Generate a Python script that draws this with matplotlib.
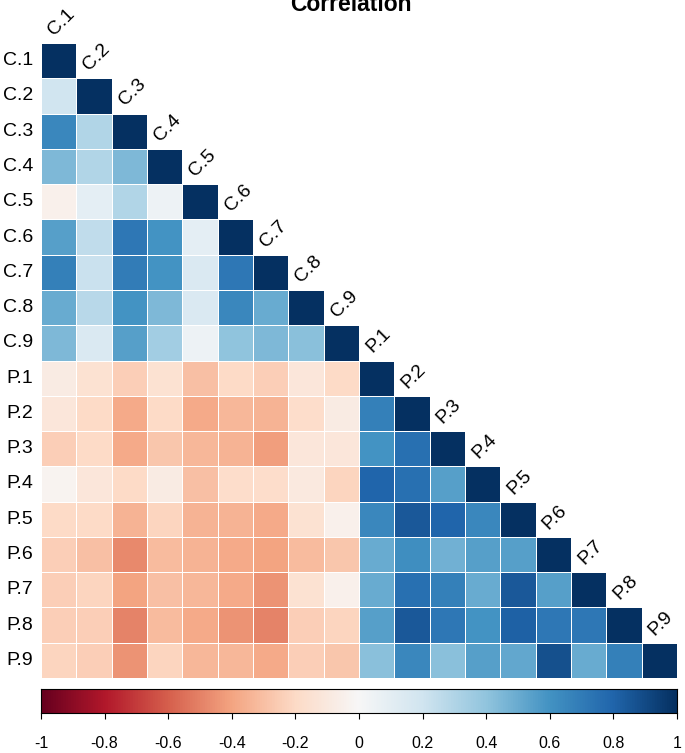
import numpy as np
import matplotlib
matplotlib.use("Agg")
import matplotlib.pyplot as plt

plt.rcParams['font.family'] = ['Liberation Sans', 'DejaVu Sans']

labels = ["C.1", "C.2", "C.3", "C.4", "C.5", "C.6", "C.7", "C.8", "C.9",
          "P.1", "P.2", "P.3", "P.4", "P.5", "P.6", "P.7", "P.8", "P.9"]

# lower-triangle correlations, row by row (values left of the diagonal)
rows = [
    [],
    [0.20],
    [0.65, 0.30],
    [0.45, 0.30, 0.45],
    [-0.05, 0.10, 0.30, 0.05],
    [0.55, 0.25, 0.72, 0.60, 0.10],
    [0.68, 0.22, 0.70, 0.60, 0.15, 0.72],
    [0.50, 0.28, 0.60, 0.45, 0.15, 0.65, 0.50],
    [0.45, 0.15, 0.55, 0.35, 0.05, 0.40, 0.45, 0.42],
    [-0.08, -0.15, -0.25, -0.15, -0.30, -0.20, -0.25, -0.12, -0.20],
    [-0.12, -0.20, -0.38, -0.20, -0.38, -0.33, -0.35, -0.18, -0.08, 0.68],
    [-0.25, -0.20, -0.38, -0.28, -0.33, -0.35, -0.42, -0.12, -0.12, 0.60, 0.75],
    [-0.03, -0.12, -0.20, -0.08, -0.30, -0.18, -0.18, -0.10, -0.22, 0.80, 0.75, 0.55],
    [-0.20, -0.20, -0.35, -0.22, -0.35, -0.35, -0.38, -0.15, -0.05, 0.65, 0.85, 0.80, 0.65],
    [-0.25, -0.30, -0.48, -0.32, -0.35, -0.38, -0.40, -0.32, -0.28, 0.50, 0.62, 0.48, 0.55, 0.55],
    [-0.25, -0.22, -0.40, -0.30, -0.33, -0.38, -0.45, -0.15, -0.05, 0.50, 0.75, 0.68, 0.50, 0.85, 0.55],
    [-0.25, -0.25, -0.50, -0.32, -0.38, -0.45, -0.50, -0.25, -0.22, 0.55, 0.85, 0.72, 0.60, 0.82, 0.72, 0.72],
    [-0.22, -0.25, -0.45, -0.22, -0.33, -0.33, -0.38, -0.25, -0.28, 0.42, 0.65, 0.42, 0.55, 0.52, 0.88, 0.50, 0.68],
]

n = len(labels)
mat = np.full((n, n), np.nan)
for i, r in enumerate(rows):
    mat[i, :len(r)] = r
    mat[i, i] = 1.0
mat = np.ma.masked_invalid(mat)

W, H = 685, 753
fig = plt.figure(figsize=(W / 100, H / 100), dpi=100)

def px_axes(x0, y0, x1, y1):
    return fig.add_axes([x0 / W, 1 - y1 / H, (x1 - x0) / W, (y1 - y0) / H])

cmap = plt.get_cmap("RdBu")
ax = px_axes(41, 43, 677, 678)
ax.pcolormesh(np.arange(n + 1) - 0.5, np.arange(n + 1) - 0.5, mat,
              cmap=cmap, vmin=-1, vmax=1, edgecolor="white", linewidth=0.6)
ax.set_xlim(-0.5, n - 0.5)
ax.set_ylim(n - 0.5, -0.5)
ax.axis("off")

for i, lab in enumerate(labels):
    ax.text(-0.72, i, lab, ha="right", va="center", fontsize=14)
    ax.text(i - 0.05, i - 0.62, lab, ha="left", va="bottom", fontsize=14,
            rotation=45, rotation_mode="anchor")

# colour legend
cax = px_axes(41, 689, 677, 713)
grad = np.linspace(-1, 1, 512).reshape(1, -1)
cax.imshow(grad, aspect="auto", cmap=cmap, vmin=-1, vmax=1,
           extent=[-1, 1, 0, 1])
cax.set_xlim(-1, 1)
cax.set_yticks([])
cax.set_xticks(np.round(np.arange(-1, 1.01, 0.2), 1))
cax.set_xticklabels(["-1", "-0.8", "-0.6", "-0.4", "-0.2", "0",
                     "0.2", "0.4", "0.6", "0.8", "1"])
cax.tick_params(axis="x", length=4, width=0.8, pad=12.5, labelsize=11.5)
for s in cax.spines.values():
    s.set_linewidth(0.8)

fig.text(351 / W, 1 - 11 / H, "Correlation", ha="center", va="baseline",
         fontsize=16.5, fontweight="bold")

fig.savefig("out.png", dpi=100)
